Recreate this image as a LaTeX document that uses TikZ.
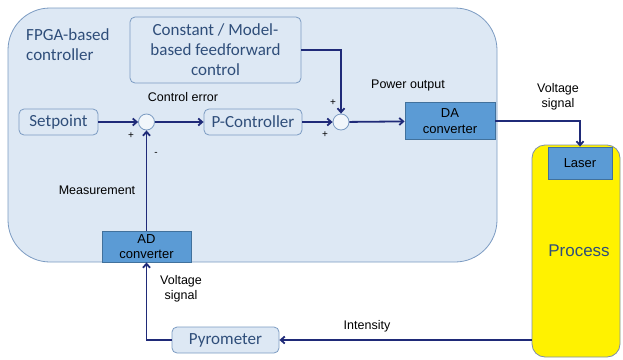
\documentclass[tikz,border=0pt]{standalone}
\usepackage{fontspec}
\setmainfont{Liberation Sans}
\newfontfamily\calfont{Carlito}
\usetikzlibrary{arrows.meta}
\definecolor{panel}{HTML}{DDE8F4}
\definecolor{panelline}{HTML}{7B9BC2}
\definecolor{txtblue}{HTML}{2F4E7A}
\definecolor{conv}{HTML}{5B9BD5}
\definecolor{convline}{HTML}{41719C}
\definecolor{arrowc}{HTML}{1F2A78}
\definecolor{procline}{HTML}{7F8FA6}
\begin{document}
\begin{tikzpicture}[x=1pt,y=-1pt,
  softbox/.style={draw=panelline, fill=panel, rounded corners=5pt, font=\calfont\fontsize{17}{20}\selectfont, text=txtblue, inner sep=0pt, line width=0.8pt, align=center},
  convbox/.style={draw=convline, fill=conv, font=\fontsize{13}{15.5}\selectfont, text=black, inner sep=0pt, line width=0.8pt, align=center},
  sumnode/.style={circle, draw=panelline, fill=panel!40!white, minimum size=16pt, inner sep=0pt, line width=0.8pt},
  lbl/.style={font=\fontsize{12.5}{15}\selectfont, text=black, align=center, inner sep=0pt},
  sgn/.style={font=\fontsize{10}{12}\selectfont, text=black, inner sep=0pt},
  flow/.style={draw=arrowc, line width=1.8pt, -{Straight Barb[length=4pt,width=7pt]}}
]
\useasboundingbox (0,0) rectangle (623,359);
% FPGA panel
\draw[draw=panelline, fill=panel, line width=0.8pt, rounded corners=42pt] (8,8) rectangle (497,262);
\node[anchor=west, align=left, font=\calfont\fontsize{17}{20}\selectfont, text=txtblue, inner sep=0pt] (fpga) at (26,45) {FPGA-based\\controller};
% Process
\node[draw=procline, fill=yellow, rounded corners=13pt, line width=0.8pt, minimum width=88pt, minimum height=212pt, inner sep=0pt, font=\fontsize{17}{20}\selectfont, text=txtblue] (proc) at (576,251) {\hspace{6pt}Process};
% boxes
\node[softbox, minimum width=171pt, minimum height=66pt] (ff) at (215.5,50) {Constant / Model-\\based feedforward\\control};
\node[softbox, minimum width=79pt, minimum height=26pt] (sp) at (58.5,122) {Setpoint};
\node[sumnode] (s1) at (146.5,122) {};
\node[softbox, minimum width=98pt, minimum height=26pt] (pc) at (253,122) {P-Controller};
\node[sumnode] (s2) at (341,122) {};
\node[convbox, minimum width=90pt, minimum height=37pt] (da) at (450,121) {DA\\converter};
\node[convbox, minimum width=64pt, minimum height=32pt] (laser) at (580,163) {Laser};
\node[convbox, minimum width=89pt, minimum height=31pt] (ad) at (146.5,246.5) {AD\\converter};
\node[softbox, minimum width=107pt, minimum height=26pt] (pyro) at (225.5,340) {Pyrometer};
% connectors
\draw[flow] (sp) -- (s1);
\draw[flow] (s1) -- (pc);
\draw[flow] (pc) -- (s2);
\draw[flow] (ff.east) -| (s2.north);
\draw[flow] (s2) -- (da);
\draw[flow] (da.east) -| (laser.north);
\draw[flow] (proc.west |- pyro.east) -- (pyro.east);
\draw[flow] (pyro.west) -| (ad.south);
\draw[flow] (ad.north) -- (s1.south);
% labels
\node[lbl] (lce) at (183,97) {Control error};
\node[lbl] (lpo) at (408,85) {Power output};
\node[lbl] (lvs1) at (558,97) {Voltage\\signal};
\node[lbl] (lme) at (97,190) {Measurement};
\node[lbl] (lvs2) at (181,289) {Voltage\\signal};
\node[lbl] (lin) at (367,326) {Intensity};
\node[sgn] (p1) at (131,136) {+};
\node[sgn] (m1) at (156,154) {-};
\node[sgn] (p2) at (333,103) {+};
\node[sgn] (p3) at (325,135) {+};
\end{tikzpicture}
\end{document}
